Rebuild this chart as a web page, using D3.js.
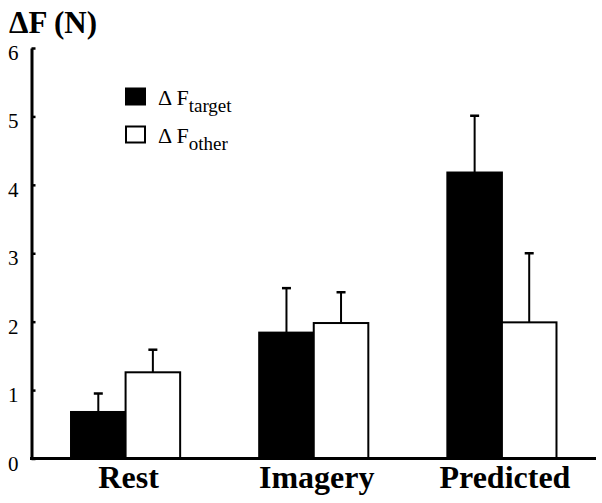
<!DOCTYPE html>
<html>
<head>
<meta charset="utf-8">
<script src="https://cdn.jsdelivr.net/npm/d3@7"></script>
</head>
<body style="margin:0">
<script>
// ---- data ----
const categories = ["Rest", "Imagery", "Predicted"];
const seriesNames = ["target", "other"];
const targetValues = [0.68, 1.84, 4.18];
const targetErrors = [0.27, 0.65, 0.83];
const otherValues = [1.26, 1.98, 1.99];
const otherErrors = [0.33, 0.45, 1.01];
const yTicks = [0, 1, 2, 3, 4, 5, 6];

// ---- layout ----
const W = 602, H = 503;
const axisX = 31.5, plotRight = 596;
const yBottom = 458.5, yTop = 48;
const FONT = "Liberation Serif";
const DELTA = "\u0394";

const svg = d3.select("body").append("svg").attr("width", W).attr("height", H);

const y = d3.scaleLinear().domain([0, 6]).range([yBottom, yTop]);
const x = d3.scaleBand().domain(categories).range([axisX, plotRight])
  .paddingInner(0.42).paddingOuter(0.21);
const xs = d3.scaleBand().domain(seriesNames).range([0, x.bandwidth()]);

const rows = categories.map((c, i) => ({
  cat: c,
  series: [
    { key: "target", v: targetValues[i], e: targetErrors[i], fill: "#000" },
    { key: "other", v: otherValues[i], e: otherErrors[i], fill: "#fff" }
  ]
}));

const groups = svg.append("g").selectAll("g").data(rows).join("g")
  .attr("transform", d => `translate(${x(d.cat)},0)`);

// error bars (upper only)
groups.selectAll("g.err").data(d => d.series).join("g").attr("class", "err")
  .each(function(d) {
    const g = d3.select(this);
    const cx = xs(d.key) + xs.bandwidth() / 2;
    g.append("line").attr("x1", cx).attr("x2", cx)
      .attr("y1", y(d.v)).attr("y2", y(d.v + d.e))
      .attr("stroke", "#000").attr("stroke-width", 2);
    g.append("line").attr("x1", cx - 4.5).attr("x2", cx + 4.5)
      .attr("y1", y(d.v + d.e)).attr("y2", y(d.v + d.e))
      .attr("stroke", "#000").attr("stroke-width", 2.5);
  });

// bars
groups.selectAll("rect").data(d => d.series).join("rect")
  .attr("x", d => xs(d.key))
  .attr("width", xs.bandwidth())
  .attr("y", d => y(d.v))
  .attr("height", d => yBottom - y(d.v))
  .attr("fill", d => d.fill)
  .attr("stroke", "#000")
  .attr("stroke-width", 2);

// y axis (lines from d3 axis, labels drawn separately)
const yAxis = svg.append("g").attr("transform", `translate(${axisX},0)`)
  .call(d3.axisLeft(y).tickValues(yTicks).tickFormat("")
    .tickSize(-4).tickSizeOuter(0));
yAxis.select(".domain").attr("stroke", "#000").attr("stroke-width", 3);
yAxis.selectAll(".tick line").attr("stroke", "#000").attr("stroke-width", 2.5);

svg.append("g").selectAll("text").data(yTicks).join("text")
  .attr("x", axisX - 13)
  .attr("y", d => y(d) + 12)
  .attr("text-anchor", "end")
  .attr("font-family", FONT)
  .attr("font-size", 21)
  .text(d => d);

// x axis line
svg.append("line").attr("x1", axisX - 1.5).attr("x2", plotRight)
  .attr("y1", yBottom).attr("y2", yBottom)
  .attr("stroke", "#000").attr("stroke-width", 3);

// category labels
svg.append("g").selectAll("text").data(categories).join("text")
  .attr("x", d => x(d) + x.bandwidth() / 2 + 3)
  .attr("y", 488)
  .attr("text-anchor", "middle")
  .attr("font-family", FONT)
  .attr("font-size", 32).attr("font-weight", "bold")
  .text(d => d);

// y title
svg.append("text").attr("x", 9).attr("y", 33)
  .attr("font-family", FONT)
  .attr("font-size", 31).attr("font-weight", "bold")
  .text(DELTA + "F (N)");

// legend
const legendItems = [
  { key: "target", fill: "#000", sub: "target" },
  { key: "other", fill: "#fff", sub: "other" }
];
const leg = svg.append("g").selectAll("g").data(legendItems).join("g")
  .attr("transform", (d, i) => `translate(125,${88 + i * 38})`);
leg.append("rect").attr("x", 1).attr("y", 0.5).attr("width", 19).attr("height", 16)
  .attr("fill", d => d.fill).attr("stroke", "#000").attr("stroke-width", 2);
const lt = leg.append("text").attr("x", 33).attr("y", 17)
  .attr("font-family", FONT).attr("font-size", 22);
lt.append("tspan").text(DELTA + " F");
lt.append("tspan").attr("dy", 7).attr("font-size", 19).text(d => d.sub);
</script>
</body>
</html>
